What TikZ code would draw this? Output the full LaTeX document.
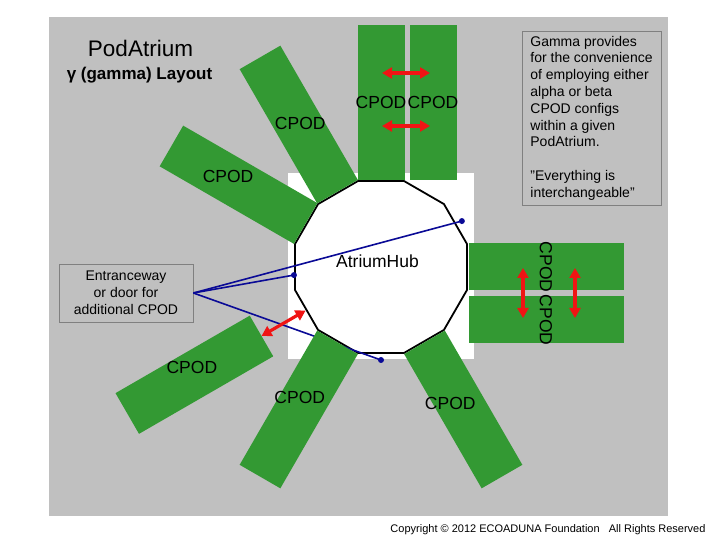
\documentclass[tikz,border=0pt]{standalone}
\usepackage{fontspec}
\setmainfont{Liberation Sans}
\usetikzlibrary{positioning, arrows.meta, shapes.geometric, calc}

\definecolor{podgreen}{RGB}{51,153,51}
\definecolor{bggray}{RGB}{192,192,192}
\definecolor{boxgray}{RGB}{128,128,128}
\definecolor{swapred}{RGB}{240,20,20}
\definecolor{doorblue}{RGB}{10,10,150}

\begin{document}
\begin{tikzpicture}[
    x=1pt, y=1pt,
    pod/.style={rectangle, fill=podgreen, minimum width=155pt, minimum height=47pt,
                inner sep=0pt, outer sep=0pt},
    podlabel/.style={font=\fontsize{17.5}{21}\selectfont, inner sep=0pt},
    hubshape/.style={regular polygon, regular polygon sides=12, minimum size=178pt,
                     inner sep=0pt, outer sep=0pt, draw=black, line width=1.8pt, fill=white},
    note/.style={rectangle, draw=boxgray, line width=0.8pt, fill=bggray,
                 font=\fontsize{14}{16.8}\selectfont, inner sep=0pt},
    swaparrow/.style={{Triangle[length=10pt,width=11pt]}-{Triangle[length=10pt,width=11pt]},
                      line width=3.2pt, swapred},
    doorline/.style={doorblue, line width=1.6pt},
    doordot/.style={circle, fill=doorblue, inner sep=0pt, minimum size=6pt},
  ]
    % Page and backdrop
    \fill[white] (0,0) rectangle (720,540);
    \useasboundingbox (0,0) rectangle (720,540);
    \fill[bggray] (49,24) rectangle (668,523);
    \fill[white] (288,181) rectangle (474,367);

    % Hub
    \node[hubshape] (hub) at (381,273) {};
    \node[podlabel] (hubname) at ($(hub)+(-3.5,5.5)$) {AtriumHub};

    % Entranceway note and its doors
    \node[note, minimum width=134pt, minimum height=58pt, align=center] (entry) at (126,247)
      {Entranceway\\or door for\\additional CPOD};
    \node[doordot] (doorA) at ($(hub)+(29.6:93)$) {};
    \node[doordot] (doorB) at ($(hub)+(185.3:87.4)$) {};
    \node[doordot] (doorC) at ($(hub)+(270:93)$) {};
    \draw[doorline] (entry.east) -- (doorA.center);
    \draw[doorline] (entry.east) -- (doorB.center);
    \draw[doorline] (entry.east) -- (doorC.center);

    % Pods round the hub
    \node[pod, rotate=90] (ptopL) at ($(hub)+(90:164.5)$) {};
    \node[pod, rotate=90] (ptopR) at ($(ptopL)+(52,0)$) {};
    \node[pod] (prightT) at ($(hub)+(0:165)$) {};
    \node[pod] (prightB) at ($(prightT)+(0,-53)$) {};
    \node[pod, rotate=120] (p120) at ($(hub)+(120:164.5)$) {};
    \node[pod, rotate=150] (p150) at ($(hub)+(150:164.5)$) {};
    \node[pod, rotate=240] (p240) at ($(hub)+(240:164.5)$) {};
    \node[pod, rotate=300] (p300) at ($(hub)+(300:164.5)$) {};
    \node[pod, rotate=210] (pdoor) at ($(hub)+(210:215.5)$) {};

    % Pod labels
    \node[podlabel] at (ptopL) {CPOD};
    \node[podlabel] at (ptopR) {CPOD};
    \node[podlabel, rotate=-90] at (prightT) {CPOD};
    \node[podlabel, rotate=-90] at (prightB) {CPOD};
    \node[podlabel] at ($(p120)+(1.5,1.5)$) {CPOD};
    \node[podlabel] at ($(p150)+(-10.5,8)$) {CPOD};
    \node[podlabel] at ($(p240)+(1,11.5)$) {CPOD};
    \node[podlabel] at ($(p300)+(-13,5.5)$) {CPOD};
    \node[podlabel] at ($(pdoor)+(-2.5,7)$) {CPOD};

    % Swap arrows
    \draw[swaparrow] ($(ptopL)+(1,29.5)$) -- ($(ptopR)+(-3,29.5)$);
    \draw[swaparrow] ($(ptopL)+(1,-23.5)$) -- ($(ptopR)+(-3,-23.5)$);
    \draw[swaparrow] ($(prightT)+(-23,-1)$) -- ($(prightB)+(-23,2)$);
    \draw[swaparrow] ($(prightT)+(29,-1)$) -- ($(prightB)+(29,2)$);
    \draw[swaparrow] (pdoor.west) -- ($(hub)+(210:87)$);

    % Notes and titles
    \node[note, minimum width=139pt, minimum height=174pt, align=left] (gamma) at (591.5,422)
      {Gamma provides\\for the convenience\\of employing either\\alpha or beta\\CPOD configs\\within a given\\PodAtrium.\\[16.8pt]"Everything is\\interchangeable"};
    \node[font=\fontsize{22.5}{27}\selectfont, anchor=base] (title) at (140.5,483.3) {PodAtrium};
    \node[font=\bfseries\fontsize{17}{20}\selectfont, anchor=base] (subtitle) at (139.5,460.7) {γ (gamma) Layout};
    \node[font=\fontsize{11}{13}\selectfont] (copy) at (548,10) {Copyright © 2012 ECOADUNA Foundation~~~All Rights Reserved};

\end{tikzpicture}
\end{document}
